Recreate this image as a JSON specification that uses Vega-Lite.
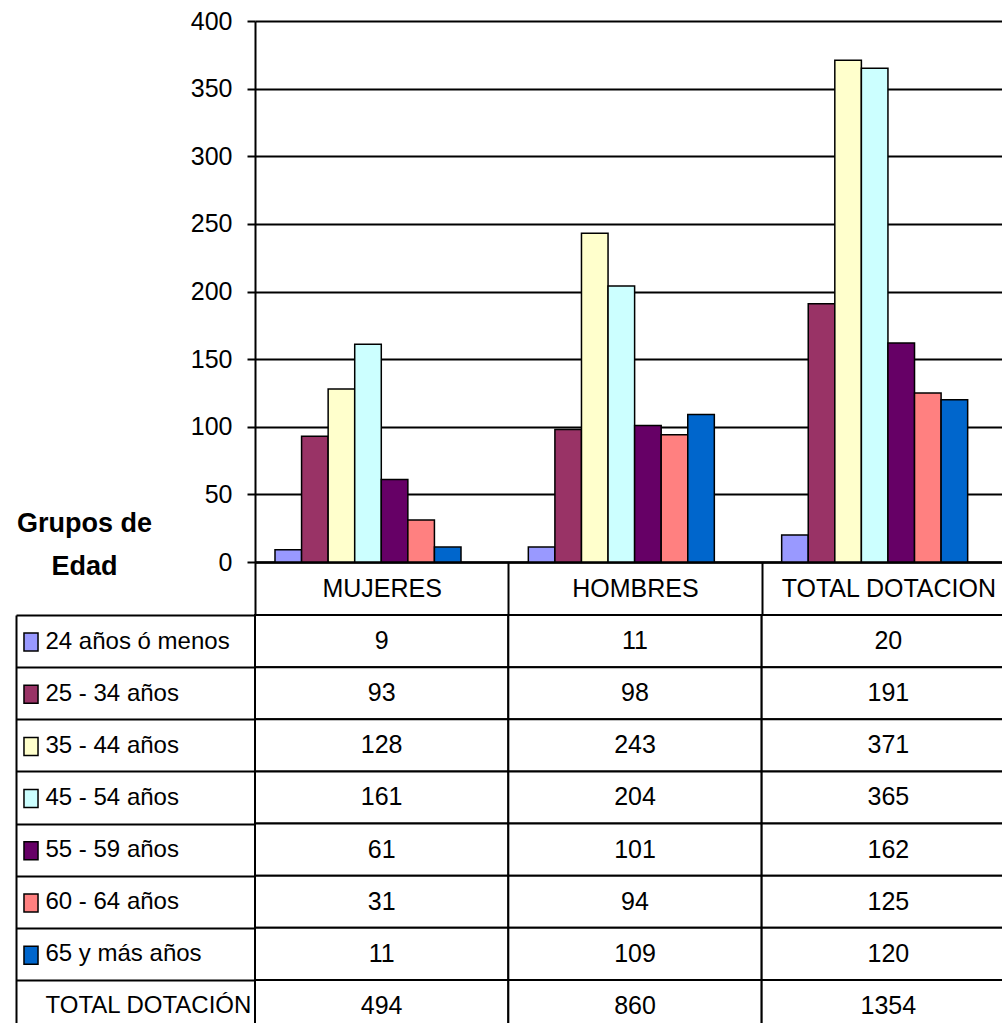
{
  "$schema": "https://vega.github.io/schema/vega-lite/v6.json",
  "background": "white",
  "padding": {"left": 15, "top": 9, "right": 0, "bottom": 0},
  "config": {
    "view": {"stroke": null},
    "font": "Liberation Sans, Arial, sans-serif"
  },
  "datasets": {
    "d": [
      {"grupo": "24 años ó menos", "sexo": "MUJERES", "valor": 9},
      {"grupo": "25 - 34 años", "sexo": "MUJERES", "valor": 93},
      {"grupo": "35 - 44 años", "sexo": "MUJERES", "valor": 128},
      {"grupo": "45 - 54 años", "sexo": "MUJERES", "valor": 161},
      {"grupo": "55 - 59 años", "sexo": "MUJERES", "valor": 61},
      {"grupo": "60 - 64 años", "sexo": "MUJERES", "valor": 31},
      {"grupo": "65 y más años", "sexo": "MUJERES", "valor": 11},
      {"grupo": "TOTAL DOTACIÓN", "sexo": "MUJERES", "valor": 494},
      {"grupo": "24 años ó menos", "sexo": "HOMBRES", "valor": 11},
      {"grupo": "25 - 34 años", "sexo": "HOMBRES", "valor": 98},
      {"grupo": "35 - 44 años", "sexo": "HOMBRES", "valor": 243},
      {"grupo": "45 - 54 años", "sexo": "HOMBRES", "valor": 204},
      {"grupo": "55 - 59 años", "sexo": "HOMBRES", "valor": 101},
      {"grupo": "60 - 64 años", "sexo": "HOMBRES", "valor": 94},
      {"grupo": "65 y más años", "sexo": "HOMBRES", "valor": 109},
      {"grupo": "TOTAL DOTACIÓN", "sexo": "HOMBRES", "valor": 860},
      {"grupo": "24 años ó menos", "sexo": "TOTAL DOTACION", "valor": 20},
      {"grupo": "25 - 34 años", "sexo": "TOTAL DOTACION", "valor": 191},
      {"grupo": "35 - 44 años", "sexo": "TOTAL DOTACION", "valor": 371},
      {"grupo": "45 - 54 años", "sexo": "TOTAL DOTACION", "valor": 365},
      {"grupo": "55 - 59 años", "sexo": "TOTAL DOTACION", "valor": 162},
      {"grupo": "60 - 64 años", "sexo": "TOTAL DOTACION", "valor": 125},
      {"grupo": "65 y más años", "sexo": "TOTAL DOTACION", "valor": 120},
      {"grupo": "TOTAL DOTACIÓN", "sexo": "TOTAL DOTACION", "valor": 1354}
    ]
  },
  "data": {"name": "d"},
  "bounds": "flush",
  "spacing": 53,
  "vconcat": [
    {
      "width": 760,
      "height": 541,
      "transform": [{"filter": "datum.grupo !== 'TOTAL DOTACIÓN'"}],
      "mark": {"type": "bar", "stroke": "black", "strokeWidth": 1.5, "opacity": 1},
      "encoding": {
        "x": {
          "field": "sexo", "type": "nominal",
          "sort": ["MUJERES", "HOMBRES", "TOTAL DOTACION"],
          "scale": {"paddingInner": 0, "paddingOuter": 0},
          "axis": {
            "title": null, "orient": "bottom", "labelAngle": 0, "labelLimit": 0,
            "domainColor": "black", "domainWidth": 2.5,
            "tickBand": "extent", "tickSize": 53, "tickColor": "black", "tickWidth": 2,
            "labelPadding": -26.5, "labelBaseline": "middle",
            "labelFontSize": 25, "labelColor": "black"
          }
        },
        "xOffset": {
          "field": "grupo", "type": "nominal",
          "sort": ["24 años ó menos", "25 - 34 años", "35 - 44 años", "45 - 54 años", "55 - 59 años", "60 - 64 años", "65 y más años"],
          "scale": {"paddingInner": 0, "paddingOuter": 0, "range": [20, 206]}
        },
        "y": {
          "field": "valor", "type": "quantitative",
          "scale": {"domain": [0, 400], "nice": false},
          "axis": {
            "title": ["Grupos de", "Edad"], "titleAngle": 0, "titleAlign": "center",
            "titleBaseline": "alphabetic", "titleX": -171, "titleY": 510,
            "titleFontSize": 27, "titleFontWeight": "bold", "titleLineHeight": 43, "titleColor": "black",
            "values": [0, 50, 100, 150, 200, 250, 300, 350, 400],
            "grid": true, "gridColor": "black", "gridWidth": 2,
            "domainColor": "black", "domainWidth": 2,
            "tickColor": "black", "tickSize": 8, "tickWidth": 2,
            "labelPadding": 15, "labelFontSize": 25, "labelColor": "black"
          }
        },
        "color": {
          "field": "grupo", "type": "nominal",
          "scale": {
            "domain": ["24 años ó menos", "25 - 34 años", "35 - 44 años", "45 - 54 años", "55 - 59 años", "60 - 64 años", "65 y más años"],
            "range": ["#9999FF", "#993366", "#FFFFCC", "#CCFFFF", "#660066", "#FF8080", "#0066CC"]
          },
          "legend": {
            "orient": "none", "legendX": -234, "legendY": 611,
            "title": null, "padding": 0, "offset": 0,
            "symbolType": "M-0.78,-1H0.78V1H-0.78Z", "symbolSize": 324,
            "symbolStrokeColor": "black", "symbolStrokeWidth": 1.5,
            "symbolOpacity": 1, "symbolFillOpacity": 1,
            "labelExpr": "''", "labelFontSize": 1, "labelOffset": 0,
            "rowPadding": 28.2
          }
        }
      }
    },
    {
      "width": 760,
      "height": 417,
      "encoding": {
        "x": {
          "field": "sexo", "type": "nominal",
          "sort": ["MUJERES", "HOMBRES", "TOTAL DOTACION"],
          "scale": {"paddingInner": 0, "paddingOuter": 0},
          "axis": null
        },
        "y": {
          "field": "grupo", "type": "nominal",
          "sort": ["24 años ó menos", "25 - 34 años", "35 - 44 años", "45 - 54 años", "55 - 59 años", "60 - 64 años", "65 y más años", "TOTAL DOTACIÓN"],
          "scale": {"paddingInner": 0, "paddingOuter": 0},
          "axis": {
            "title": null, "orient": "left", "offset": 239,
            "domainColor": "black", "domainWidth": 2,
            "tickSize": -239, "tickBand": "extent", "tickColor": "black", "tickWidth": 2,
            "labelAlign": "left", "labelBaseline": "middle", "labelPadding": 210, "labelLimit": 0,
            "labelFontSize": 24, "labelColor": "black"
          }
        }
      },
      "layer": [
        {"mark": {"type": "rect", "fill": "white", "stroke": "black", "strokeWidth": 2}},
        {"mark": {"type": "text", "fontSize": 25, "color": "black", "baseline": "middle"}, "encoding": {"text": {"field": "valor", "type": "quantitative"}}}
      ]
    }
  ]
}
